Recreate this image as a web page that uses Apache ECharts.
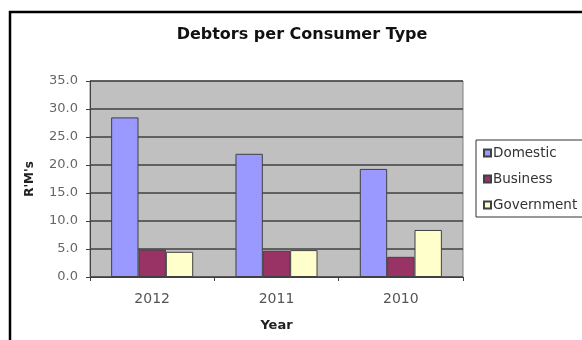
<!DOCTYPE html>
<html>
<head>
<meta charset="utf-8">
<script src="https://cdn.jsdelivr.net/npm/echarts@6/dist/echarts.min.js"></script>
<style>
  html, body { margin: 0; padding: 0; background: #ffffff; }
  #chart { width: 582px; height: 340px; }
</style>
</head>
<body>
<div id="chart"></div>
<script>
// Debtors (R'M's) by consumer type per year
const years = ['2012', '2011', '2010'];
const domestic = [28.5, 22.0, 19.3];
const business = [4.9, 4.7, 3.6];
const government = [4.5, 4.8, 8.4];
const yTicks = { min: 0, max: 35, step: 5 };

const font = '"DejaVu Sans", Verdana, sans-serif';

const chart = echarts.init(document.getElementById('chart'), null, { renderer: 'canvas' });

function barSeries(name, data, color) {
  return {
    name: name,
    type: 'bar',
    data: data,
    barGap: '0%',
    barCategoryGap: '34%',
    itemStyle: { color: color, borderColor: '#404040', borderWidth: 1 }
  };
}

chart.setOption({
  animation: false,
  backgroundColor: '#ffffff',
  title: {
    text: 'Debtors per Consumer Type',
    left: 297,
    top: 22,
    textAlign: 'center',
    textStyle: { fontFamily: font, fontSize: 16, fontWeight: 'bold', color: '#111111' }
  },
  graphic: [
    {
      type: 'rect',
      shape: { x: 10, y: 12, width: 590, height: 340 },
      style: { fill: 'none', stroke: '#000000', lineWidth: 2.5 },
      z: 100
    },
    {
      type: 'rect',
      shape: { x: 476, y: 140, width: 120, height: 77 },
      style: { fill: '#ffffff', stroke: '#333333', lineWidth: 1 },
      z: 1
    }
  ],
  grid: {
    left: 90, right: 119, top: 81, bottom: 63,
    show: true,
    backgroundColor: '#c0c0c0',
    borderColor: '#808080',
    borderWidth: 1
  },
  legend: {
    orient: 'vertical',
    left: 478,
    top: 141,
    itemWidth: 7,
    itemHeight: 7,
    itemGap: 12,
    icon: 'rect',
    z: 5,
    textStyle: { fontFamily: font, fontSize: 13.5, color: '#333333', padding: [0, 0, 0, -3] },
    data: ['Domestic', 'Business', 'Government']
  },
  xAxis: {
    type: 'category',
    data: years,
    name: 'Year',
    nameLocation: 'middle',
    nameGap: 42,
    nameTextStyle: { fontFamily: font, fontSize: 13, fontWeight: 'bold', color: '#222222' },
    axisLine: { lineStyle: { color: '#404040', width: 1 } },
    axisTick: { show: true, length: 4, lineStyle: { color: '#404040' } },
    axisLabel: { fontFamily: font, fontSize: 14, color: '#555555', margin: 15 }
  },
  yAxis: {
    type: 'value',
    min: yTicks.min,
    max: yTicks.max,
    interval: yTicks.step,
    name: "R'M's",
    nameLocation: 'middle',
    nameGap: 54,
    nameRotate: 90,
    nameTextStyle: { fontFamily: font, fontSize: 12, fontWeight: 'bold', color: '#222222' },
    axisLine: { show: true, lineStyle: { color: '#404040', width: 1 } },
    axisTick: { show: true, length: 4, lineStyle: { color: '#404040' } },
    axisLabel: {
      fontFamily: font, fontSize: 13, color: '#666666', margin: 12,
      formatter: v => v.toFixed(1)
    },
    splitLine: { show: true, lineStyle: { color: '#404040', width: 1.5 } }
  },
  series: [
    barSeries('Domestic', domestic, '#9999ff'),
    barSeries('Business', business, '#993366'),
    barSeries('Government', government, '#ffffcc')
  ]
});
</script>
</body>
</html>
